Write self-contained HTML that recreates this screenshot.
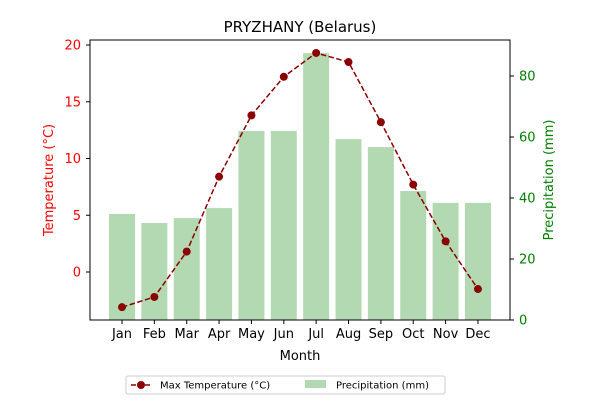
<!DOCTYPE html>
<html><head><meta charset="utf-8"><style>
body{margin:0;background:#fff;font-family:"Liberation Sans","DejaVu Sans",sans-serif}
</style></head><body>
<svg width="600" height="400" xmlns="http://www.w3.org/2000/svg" font-family="'DejaVu Sans','Liberation Sans',sans-serif">
<text x="300" y="32" text-anchor="middle" font-size="15">PRYZHANY (Belarus)</text>
<g id="bars"></g>
<g id="line"></g>
<rect x="90" y="40" width="420" height="280" fill="none" stroke="#000" stroke-width="1"/>
<g id="axes"></g>
<text x="300" y="360" text-anchor="middle" font-size="13">Month</text>
<text transform="translate(53,180) rotate(-90)" text-anchor="middle" font-size="13" fill="red">Temperature (°C)</text>
<text transform="translate(553,180) rotate(-90)" text-anchor="middle" font-size="13" fill="green">Precipitation (mm)</text>
<g>
<rect x="126" y="376" width="319" height="18" fill="#fff" stroke="#ccc" rx="2"/>
<g>
<line x1="131" y1="385" x2="151" y2="385" stroke="#8b0000" stroke-width="1.5" stroke-dasharray="5,2"/>
<circle cx="141" cy="385" r="4" fill="#8b0000"/>
<text x="160" y="388.5" font-size="10">Max Temperature (°C)</text></g>
<g>
<rect x="305" y="380" width="21" height="8" fill="green" fill-opacity="0.3"/>
<text x="336" y="388.5" font-size="10">Precipitation (mm)</text></g>
</g>
</svg>
<script>
const months=["Jan","Feb","Mar","Apr","May","Jun","Jul","Aug","Sep","Oct","Nov","Dec"];
const maxTemp=[-3.1,-2.2,1.8,8.4,13.8,17.2,19.3,18.5,13.2,7.7,2.7,-1.5];
const precip=[34.8,31.8,33.4,36.7,62,62,87.5,59.3,56.7,42.3,38.4,38.4];
const tempTicks=[0,5,10,15,20];
const precipTicks=[0,20,40,60,80];
const NS="http://www.w3.org/2000/svg";
const xS=i=>122+i*32.36;
const yT=v=>272-v*11.35;
const yP=v=>320-v*3.05;
function mk(t,a,p){const e=document.createElementNS(NS,t);for(const k in a)e.setAttribute(k,a[k]);p.appendChild(e);return e;}
const bars=document.getElementById('bars'),line=document.getElementById('line'),axes=document.getElementById('axes');
precip.forEach((v,i)=>{const r=mk('rect',{x:xS(i)-13,y:yP(v),width:26,height:320-yP(v),fill:'green','fill-opacity':0.3},bars);

});
const pl=mk('polyline',{points:maxTemp.map((v,i)=>xS(i)+','+yT(v)).join(' '),fill:'none',stroke:'#8b0000','stroke-width':1.5,'stroke-dasharray':'5.5,2.5'},line);


maxTemp.forEach((v,i)=>{const c=mk('circle',{cx:xS(i),cy:yT(v),r:4,fill:'#8b0000'},line);

});
months.forEach((m,i)=>{mk('line',{x1:xS(i),x2:xS(i),y1:320,y2:324,stroke:'#000'},axes);
const t=mk('text',{x:xS(i),y:338,'text-anchor':'middle','font-size':13},axes);t.textContent=m;

});
tempTicks.forEach(v=>{mk('line',{x1:86,x2:90,y1:yT(v),y2:yT(v),stroke:'#000'},axes);
const t=mk('text',{x:81,y:yT(v)+4.5,'text-anchor':'end','font-size':13,fill:'red'},axes);t.textContent=v;

});
precipTicks.forEach(v=>{mk('line',{x1:510,x2:514,y1:yP(v),y2:yP(v),stroke:'#000'},axes);
const t=mk('text',{x:519,y:yP(v)+4.5,'font-size':13,fill:'green'},axes);t.textContent=v;

});
</script>
</body></html>
